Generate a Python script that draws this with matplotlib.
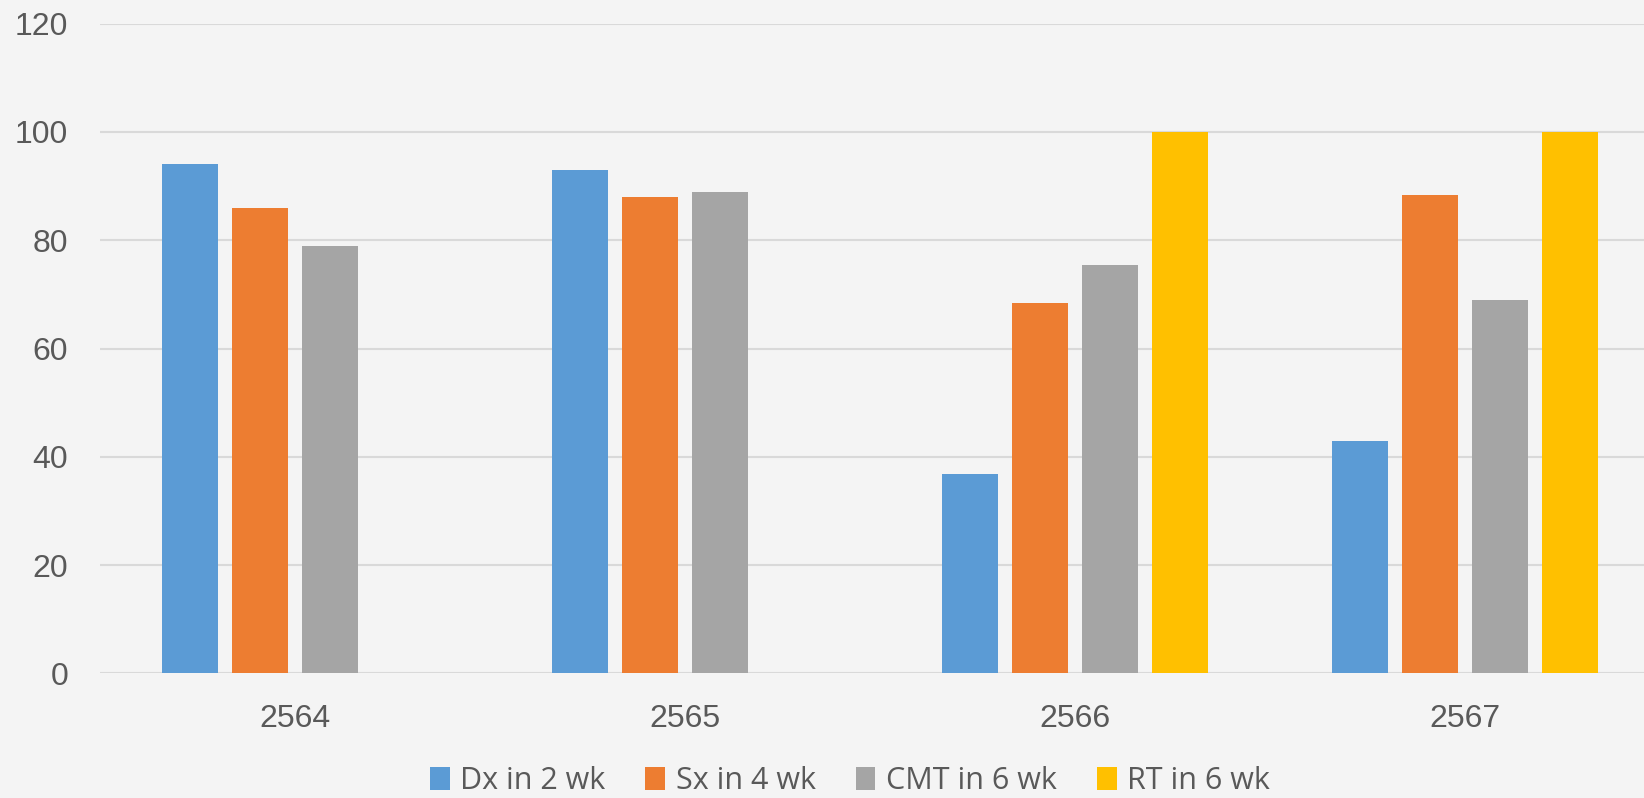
import numpy as np
import matplotlib.pyplot as plt
from matplotlib.patches import Patch

years = ['2564', '2565', '2566', '2567']
dx_2wk = [94.0, 93.0, 36.8, 42.9]
sx_4wk = [86.0, 88.0, 68.4, 88.4]
cmt_6wk = [79.0, 89.0, 75.4, 69.0]
rt_6wk = [0, 0, 100, 100]

series = [dx_2wk, sx_4wk, cmt_6wk, rt_6wk]
names = ['Dx in 2 wk', 'Sx in 4 wk', 'CMT in 6 wk', 'RT in 6 wk']
colors = ['#5b9bd5', '#ed7d31', '#a5a5a5', '#ffc000']

bg = '#f4f4f4'
txt = '#595959'

fig = plt.figure(figsize=(16.44, 7.98), dpi=100, facecolor=bg)
ax = fig.add_axes([100 / 1644, 1 - 673.3 / 798, 1 - 100 / 1644, (673.3 - 23.7) / 798])
ax.set_facecolor(bg)

x = np.arange(len(years))
step = 70 / 390
width = 56 / 390
for i, (vals, c) in enumerate(zip(series, colors)):
    ax.bar(x + (i - 1.5) * step, vals, width, color=c, zorder=3)

ax.set_xlim(-0.5, -0.5 + 1544 / 390)
ax.set_ylim(0, 120)
ax.set_yticks(range(0, 121, 20))
ax.set_xticks(x)
ax.set_xticklabels(years)
ax.grid(axis='y', color='#d9d9d9', linewidth=1.5, zorder=0)
for s in ax.spines.values():
    s.set_visible(False)
ax.tick_params(length=0, labelsize=23, labelcolor=txt, pad=0)
ax.tick_params(axis='y', pad=23)
ax.tick_params(axis='x', pad=22)
for lab in ax.get_xticklabels() + ax.get_yticklabels():
    lab.set_family('Liberation Sans')

handles = [Patch(facecolor=c) for c in colors]
fig.legend(handles, names, loc='center', bbox_to_anchor=(850 / 1644, 1 - 781 / 798),
           ncol=4, frameon=False, prop={'family': 'Open Sans', 'size': 22},
           labelcolor=txt, handlelength=0.65, handleheight=0.75, handletextpad=0.35,
           columnspacing=1.3)

fig.savefig('out.png', dpi=100, facecolor=bg)
